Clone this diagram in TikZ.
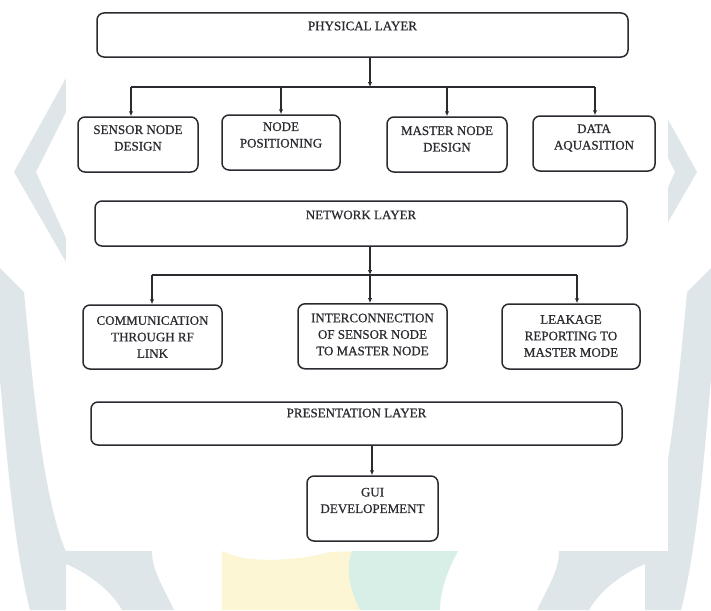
\documentclass[tikz,border=0pt]{standalone}
\usepackage{fontspec}
\setmainfont[FakeBold=0.6]{Liberation Serif}
\usetikzlibrary{arrows.meta}
\definecolor{wmgrey}{HTML}{DFE6EA}
\definecolor{wmyel}{HTML}{FCF6D4}
\definecolor{wmgrn}{HTML}{D8EFE8}
\definecolor{ink}{HTML}{2A2A30}
\begin{document}
\begin{tikzpicture}[x=1pt,y=-1pt,
  box/.style={draw=ink, line width=1.5pt, rounded corners=7pt, inner sep=0pt},
  txt/.style={font=\fontsize{13}{16.5}\selectfont, text=ink, align=center, inner sep=0pt},
  conn/.style={draw=ink, line width=1.1pt},
  arr/.style={conn, -{Latex[length=5pt,width=4.5pt]}}]
\useasboundingbox (0,0) rectangle (711,610);
% ---- background watermark (approximate) ----
\fill[white] (0,0) rectangle (711,610);
\fill[wmgrey] (66,78) -- (14,172) -- (66,262) -- (66,238) -- (36,172) -- (66,112) -- cycle;
\fill[wmgrey] (0,268) -- (24,292) .. controls (34,400) and (44,500) .. (66,552) -- (66,610) -- (30,610) .. controls (12,540) and (4,420) .. (0,380) -- cycle;
\fill[wmgrey] (645,78) -- (697,172) -- (645,262) -- (645,238) -- (675,172) -- (645,112) -- cycle;
\fill[wmgrey] (711,268) -- (687,292) .. controls (677,400) and (667,500) .. (645,552) -- (645,610) -- (681,610) .. controls (699,540) and (707,420) .. (711,380) -- cycle;
\fill[wmgrey] (44,556) .. controls (80,566) and (110,588) .. (122,610) -- (174,610) .. controls (162,585) and (152,570) .. (152,551) -- (44,551) -- cycle;
\fill[wmgrey] (667,556) .. controls (631,566) and (601,588) .. (589,610) -- (537,610) .. controls (549,585) and (559,570) .. (559,551) -- (667,551) -- cycle;
\fill[wmyel] (222,551) .. controls (250,565) and (300,560) .. (330,552) -- (360,551) -- (360,610) -- (222,610) -- cycle;
\fill[wmgrn] (352,551) -- (458,551) .. controls (445,575) and (440,595) .. (440,610) -- (360,610) .. controls (350,590) and (345,570) .. (352,551) -- cycle;
\fill[white] (66,0) rectangle (668,551);
% ---- layer boxes ----
\node[box, minimum width=531pt, minimum height=44pt] (phys) at (362.5,35) {};
\node[txt] (physT) at (362.5,26) {PHYSICAL LAYER};
\node[box, minimum width=532pt, minimum height=45pt] (netw) at (361,223.5) {};
\node[txt] (netwT) at (361,215) {NETWORK LAYER};
\node[box, minimum width=531pt, minimum height=43pt] (pres) at (356.5,423.5) {};
\node[txt] (presT) at (356.5,413) {PRESENTATION LAYER};
% ---- row 1 ----
\node[box, minimum width=120pt, minimum height=55pt] (sens) at (138,144.5) {};
\node[txt] (sensT) at (138,138) {SENSOR NODE\\DESIGN};
\node[box, minimum width=118pt, minimum height=55pt] (npos) at (281,142.5) {};
\node[txt] (nposT) at (281,135) {NODE\\POSITIONING};
\node[box, minimum width=120pt, minimum height=55pt] (mast) at (447,144.5) {};
\node[txt] (mastT) at (447,139) {MASTER NODE\\DESIGN};
\node[box, minimum width=122pt, minimum height=55pt] (data) at (594,143.5) {};
\node[txt] (dataT) at (594,138) {DATA\\AQUASITION};
% ---- row 2 ----
\node[box, minimum width=139pt, minimum height=64pt] (comm) at (152.5,337) {};
\node[txt] (commT) at (152.5,337) {COMMUNICATION\\THROUGH RF\\LINK};
\node[box, minimum width=149pt, minimum height=65pt] (intc) at (372.5,336.3) {};
\node[txt] (intcT) at (372.5,334.5) {INTERCONNECTION\\OF SENSOR NODE\\TO MASTER NODE};
\node[box, minimum width=138pt, minimum height=65pt] (leak) at (571,336.5) {};
\node[txt] (leakT) at (571,336) {LEAKAGE\\REPORTING TO\\MASTER MODE};
% ---- GUI ----
\node[box, minimum width=131pt, minimum height=65pt] (gui) at (372.5,508.5) {};
\node[txt] (guiT) at (372.5,500.5) {GUI\\DEVELOPEMENT};
% ---- connectors: physical ----
\coordinate (j1) at (370,87);
\coordinate (a1) at (131,87);
\coordinate (a2) at (281,87);
\coordinate (a3) at (447,87);
\coordinate (a4) at (595,87);
\draw[arr] (j1 |- phys.south) -- (j1);
\draw[conn] (a1) -- (a4);
\draw[arr] (a1) -- (a1 |- sens.north);
\draw[arr] (a2) -- (a2 |- npos.north);
\draw[arr] (a3) -- (a3 |- mast.north);
\draw[arr] (a4) -- (a4 |- data.north);
% ---- connectors: network ----
\coordinate (j2) at (370,275);
\coordinate (b1) at (152,275);
\coordinate (b3) at (577,275);
\draw[arr] (j2 |- netw.south) -- (j2);
\draw[conn] (b1) -- (b3);
\draw[arr] (b1) -- (b1 |- comm.north);
\draw[arr] (j2) -- (j2 |- intc.north);
\draw[arr] (b3) -- (b3 |- leak.north);
% ---- connector: presentation ----
\coordinate (c1) at (372,445);
\draw[arr] (c1 |- pres.south) -- (c1 |- gui.north);
\end{tikzpicture}
\end{document}
